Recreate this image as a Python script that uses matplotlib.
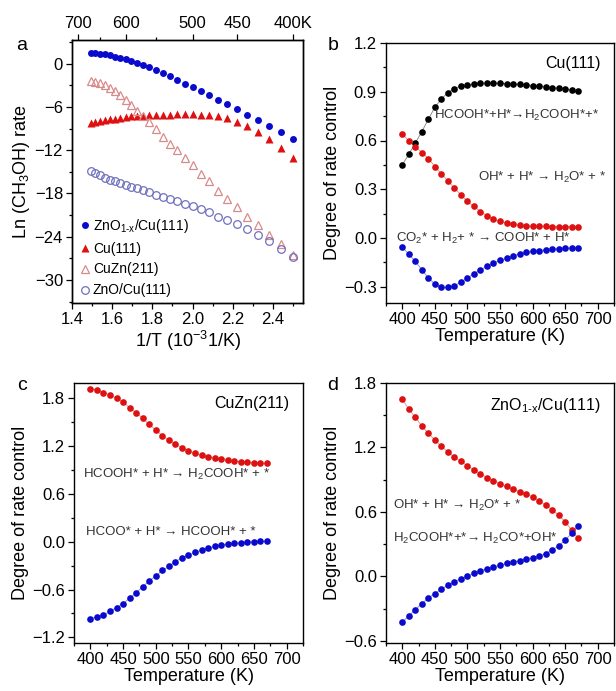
import matplotlib
matplotlib.use("Agg")
import matplotlib.pyplot as plt
from matplotlib.ticker import MultipleLocator, FixedLocator

plt.rcParams['font.family'] = ['Liberation Sans', 'DejaVu Sans']
plt.rcParams['mathtext.fontset'] = 'custom'
plt.rcParams['mathtext.rm'] = 'Liberation Sans'
plt.rcParams['mathtext.it'] = 'Liberation Sans:italic'
plt.rcParams['mathtext.default'] = 'regular'

# temperatures (K) shared by all panels
T = [400, 410, 420, 430, 440, 450, 460, 470, 480, 490, 500, 510, 520, 530,
     540, 550, 560, 570, 580, 590, 600, 610, 620, 630, 640, 650, 660, 670]

# panel a: ln(CH3OH) rate
rate_znox_cu111 = [-10.4, -9.44, -8.6, -7.83, -7.04, -6.3, -5.65, -5.0, -4.4, -3.8, -3.25, -2.74, -2.22, -1.76,
                   -1.31, -0.83, -0.47, -0.19, 0.14, 0.42, 0.64, 0.83, 0.97, 1.15, 1.29, 1.40, 1.47, 1.53]
rate_cu111 = [-13.1, -11.7, -10.5, -9.5, -8.66, -8.1, -7.5, -7.27, -7.13, -7.04, -7.0, -7.0, -7.0, -7.04,
              -7.04, -7.09, -7.13, -7.18, -7.22, -7.3, -7.41, -7.5, -7.6, -7.7, -7.83, -7.93, -8.06, -8.2]
rate_cuzn211 = [-26.5, -25.0, -23.7, -22.4, -21.2, -19.9, -18.7, -17.6, -16.3, -15.3, -14.1, -13.1, -12.0, -11.1,
                -10.1, -9.1, -8.06, -7.27, -6.5, -5.75, -4.96, -4.4, -3.8, -3.34, -2.97, -2.69, -2.5, -2.41]
rate_zno_cu111 = [-26.8, -25.65, -24.6, -23.7, -22.9, -22.3, -21.7, -21.2, -20.6, -20.2, -19.8, -19.45, -19.1, -18.75,
                  -18.5, -18.15, -17.8, -17.55, -17.3, -17.1, -16.8, -16.5, -16.3, -16.1, -15.8, -15.5, -15.2, -14.9]
top_T = [700, 600, 500, 450, 400]
top_labels = ['700', '600', '500', '450', '400K']

# panel b: Cu(111) degree of rate control
b_hcooh = [0.45, 0.515, 0.585, 0.655, 0.73, 0.805, 0.855, 0.895, 0.92, 0.935, 0.943, 0.948, 0.952, 0.953,
           0.953, 0.952, 0.95, 0.948, 0.945, 0.942, 0.938, 0.935, 0.931, 0.926, 0.921, 0.916, 0.911, 0.905]
b_oh = [0.639, 0.598, 0.563, 0.526, 0.489, 0.44, 0.395, 0.352, 0.307, 0.266, 0.225, 0.194, 0.163, 0.137,
        0.116, 0.102, 0.092, 0.085, 0.079, 0.075, 0.073, 0.072, 0.071, 0.07, 0.07, 0.07, 0.07, 0.07]
b_co2 = [-0.058, -0.099, -0.144, -0.195, -0.246, -0.283, -0.304, -0.304, -0.294, -0.271, -0.246, -0.22, -0.195, -0.175,
         -0.154, -0.138, -0.124, -0.109, -0.099, -0.089, -0.083, -0.077, -0.072, -0.068, -0.066, -0.064, -0.062, -0.062]

# panel c: CuZn(211)
c_hcooh = [1.92, 1.90, 1.87, 1.84, 1.80, 1.75, 1.68, 1.62, 1.545, 1.47, 1.40, 1.33, 1.27, 1.22,
           1.18, 1.14, 1.11, 1.083, 1.06, 1.05, 1.033, 1.024, 1.01, 1.003, 0.995, 0.99, 0.986, 0.982]
c_hcoo = [-0.97, -0.94, -0.92, -0.875, -0.825, -0.775, -0.71, -0.64, -0.565, -0.49, -0.43, -0.36, -0.31, -0.25,
          -0.2, -0.17, -0.134, -0.105, -0.08, -0.06, -0.045, -0.03, -0.02, -0.013, -0.004, 0.0, 0.005, 0.005]

# panel d: ZnO1-x/Cu(111)
d_oh = [1.65, 1.556, 1.48, 1.40, 1.33, 1.27, 1.21, 1.16, 1.11, 1.07, 1.03, 0.99, 0.956, 0.92,
        0.89, 0.86, 0.837, 0.81, 0.79, 0.766, 0.74, 0.70, 0.666, 0.62, 0.57, 0.51, 0.43, 0.354]
d_h2cooh = [-0.428, -0.365, -0.31, -0.255, -0.2, -0.16, -0.12, -0.08, -0.05, -0.02, 0.003, 0.028, 0.05, 0.072,
            0.087, 0.103, 0.12, 0.134, 0.147, 0.162, 0.175, 0.187, 0.212, 0.244, 0.284, 0.338, 0.40, 0.47]

RED = '#dd1111'
BLUE = '#0a0acc'
TXT = '#333333'
W, H = 616, 691
ANN = 9.5

fig = plt.figure(figsize=(6.16, 6.91), dpi=100)


def px_axes(left, top, right, bottom):
    return fig.add_axes([left / W, 1 - bottom / H, (right - left) / W, (bottom - top) / H])


def style(ax):
    ax.tick_params(which='both', direction='out', labelsize=12, width=0.9, pad=2.5)
    ax.tick_params(which='major', length=4)
    ax.tick_params(which='minor', length=2.5)
    for s in ax.spines.values():
        s.set_linewidth(1.0)


def dots(ax, y, color):
    ax.plot(T, y, '-', color=color, lw=0.6, alpha=0.5, zorder=2)
    ax.plot(T, y, 'o', color=color, ms=4.8, mec='none', zorder=3)


def temp_axes(ax, ylo, yhi, ystep):
    ax.set_xlim(375, 725)
    ax.set_ylim(ylo, yhi)
    ax.xaxis.set_major_locator(MultipleLocator(50))
    ax.xaxis.set_minor_locator(MultipleLocator(25))
    ax.yaxis.set_major_locator(MultipleLocator(ystep))
    ax.yaxis.set_minor_locator(MultipleLocator(ystep / 2))
    ax.set_xlabel('Temperature (K)', fontsize=13, labelpad=1)
    ax.set_ylabel('Degree of rate control', fontsize=13, labelpad=2)
    style(ax)


# ---- panel a ----
ax = px_axes(72, 40, 303, 303)
invT = [1000.0 / t for t in T]
ax.plot(invT, rate_znox_cu111, 'o', color=BLUE, ms=5, mec='none', label='ZnO$_{1\u2010x}$/Cu(111)')
ax.plot(invT, rate_cu111, '^', color=RED, ms=5.5, mec='none', label='Cu(111)')
ax.plot(invT, rate_cuzn211, '^', mfc='none', mec='#d98a8a', ms=6, mew=0.9, label='CuZn(211)')
ax.plot(invT, rate_zno_cu111, 'o', mfc='none', mec='#7070c0', ms=5.5, mew=0.9, label='ZnO/Cu(111)')
ax.set_xlim(1.4, 2.55)
ax.set_ylim(-33.2, 3.3)
ax.xaxis.set_major_locator(FixedLocator([1.4, 1.6, 1.8, 2.0, 2.2, 2.4]))
ax.xaxis.set_minor_locator(MultipleLocator(0.1))
ax.yaxis.set_major_locator(MultipleLocator(6))
ax.yaxis.set_minor_locator(MultipleLocator(3))
ax.set_xlabel('1/T (10$^{-3}$1/K)', fontsize=13, labelpad=1)
ax.set_ylabel('Ln (CH$_3$OH) rate', fontsize=13, labelpad=2)
style(ax)
ax.legend(loc='lower left', frameon=False, fontsize=10, handletextpad=0.1,
          handlelength=1.0, labelspacing=0.5, borderaxespad=0.1, borderpad=0.3)
top = ax.twiny()
top.set_xlim(ax.get_xlim())
top.set_xticks([1000.0 / t for t in top_T])
top.set_xticklabels(top_labels)
top.xaxis.set_minor_locator(FixedLocator([1000.0 / 650, 1000.0 / 550]))
style(top)

# ---- panel b ----
ax = px_axes(386, 43, 614, 303)
dots(ax, b_hcooh, 'black')
dots(ax, b_oh, RED)
dots(ax, b_co2, BLUE)
temp_axes(ax, -0.4, 1.2, 0.3)
ax.text(0.94, 0.95, 'Cu(111)', transform=ax.transAxes, ha='right', va='top', fontsize=11.5)
ax.text(448, 0.755, 'HCOOH*+H*→H$_2$COOH*+*', fontsize=ANN, color=TXT, va='center')
ax.text(516, 0.375, 'OH* + H* → H$_2$O* + *', fontsize=ANN, color=TXT, va='center')
ax.text(390, 0.0, 'CO$_2$* + H$_2$+ * → COOH* + H*', fontsize=ANN, color=TXT, va='center')

# ---- panel c ----
ax = px_axes(74, 383, 303, 643)
dots(ax, c_hcooh, RED)
dots(ax, c_hcoo, BLUE)
temp_axes(ax, -1.27, 1.99, 0.6)
ax.text(0.94, 0.95, 'CuZn(211)', transform=ax.transAxes, ha='right', va='top', fontsize=11.5)
ax.text(388, 0.84, 'HCOOH* + H* → H$_2$COOH* + *', fontsize=ANN, color=TXT, va='center')
ax.text(394, 0.12, 'HCOO* + H* → HCOOH* + *', fontsize=ANN, color=TXT, va='center')

# ---- panel d ----
ax = px_axes(386, 383, 614, 643)
dots(ax, d_oh, RED)
dots(ax, d_h2cooh, BLUE)
temp_axes(ax, -0.62, 1.8, 0.6)
ax.text(0.94, 0.95, 'ZnO$_{1\u2010x}$/Cu(111)', transform=ax.transAxes, ha='right', va='top', fontsize=11.5)
ax.text(386, 0.66, 'OH* + H* → H$_2$O* + *', fontsize=ANN, color=TXT, va='center')
ax.text(386, 0.35, 'H$_2$COOH*+*→ H$_2$CO*+OH*', fontsize=ANN, color=TXT, va='center')

# panel letters
for letter, x, y in [('a', 22, 45), ('b', 333, 45), ('c', 22, 385), ('d', 333, 385)]:
    fig.text(x / W, 1 - y / H, letter, fontsize=14, ha='center', va='center')

fig.savefig('out.png', dpi=100)
